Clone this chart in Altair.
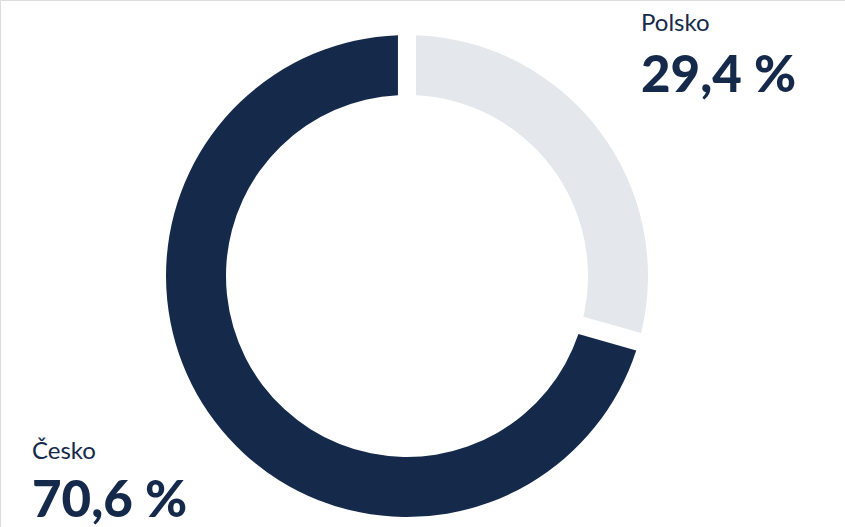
import altair as alt
import pandas as pd

countries = ["Polsko", "Česko"]
shares = [29.4, 70.6]
share_labels = ["29,4 %", "70,6 %"]
order = [1, 2]

DARK = "#152a4a"
LIGHT = "#e4e7eb"

df = pd.DataFrame({"country": countries, "share": shares, "label": share_labels, "order": order})

CX, CY = 407, 276

arc = alt.Chart(df).mark_arc(outerRadius=241, innerRadius=181, padAngle=0.06).encode(
    theta=alt.Theta("share:Q", stack=True),
    order=alt.Order("order:Q"),
    color=alt.Color("country:N", scale=alt.Scale(domain=countries, range=[LIGHT, DARK]), legend=None),
    x=alt.value(CX),
    y=alt.value(CY),
)

pos = {"Polsko": (641, 31, 92), "Česko": (32, 459, 517)}

layers = [arc]
for c in countries:
    x0, yname, yval = pos[c]
    sub = df[df.country == c]
    name_t = alt.Chart(sub).mark_text(
        align="left", baseline="alphabetic", font="Lato", fontSize=24, color=DARK
    ).encode(text="country:N", x=alt.value(x0), y=alt.value(yname))
    val_t = alt.Chart(sub).mark_text(
        align="left", baseline="alphabetic", font="Lato", fontSize=51, fontWeight=900, color=DARK
    ).encode(text="label:N", x=alt.value(x0), y=alt.value(yval))
    layers += [name_t, val_t]

chart = alt.layer(*layers).properties(
    width=845, height=527, autosize=alt.AutoSizeParams(type="none"), padding=0
).configure_view(stroke=None).configure(background="white")

chart.save("out.html", embed_options={"renderer": "svg", "actions": False})
